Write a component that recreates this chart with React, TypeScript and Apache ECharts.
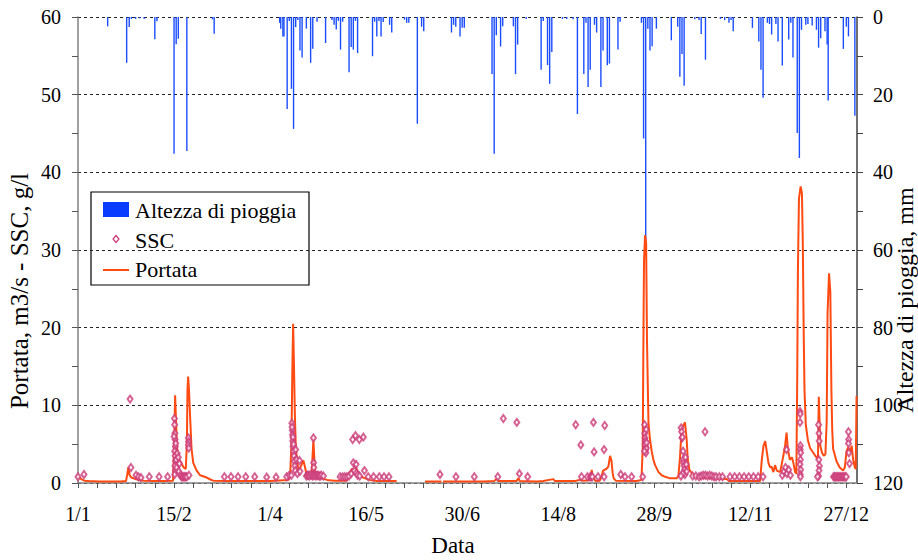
import React, { useEffect, useRef } from "react";
import * as echarts from "echarts";

// x: day of year (0 = 1 Jan)
const xTickLabels = ["1/1", "15/2", "1/4", "16/5", "30/6", "14/8", "28/9", "12/11", "27/12"];

// Altezza di pioggia (mm) [day, mm]
const rain: number[][] = [
  [13.9, 2.4], [22.8, 11.8], [24, 2.6], [25, 0.5], [27, 0.5], [29, 0.3], [31, 0.5], [36, 5.7], [37, 1.1],
  [45, 35.2], [46, 7], [47, 5.6], [51, 34.5], [63, 0.6], [63.8, 4.3],
  [94.5, 1.5], [95, 3], [96, 5], [96.5, 5], [98, 23.7], [99, 1], [100, 18.5], [101, 28.8], [102, 2.6], [103, 0.8],
  [104, 8.6], [105, 10.4], [107, 3], [109, 11.8], [110, 8.2], [112, 1.2], [116, 6.7], [119, 0.8], [120, 2],
  [121, 3.2], [122, 1], [123, 8.4], [124, 1.2], [127, 14.2], [128, 7.7], [129, 8.4], [130, 1], [131, 9.3],
  [138, 10.1], [139, 1.2], [140, 5], [141, 1], [142, 5], [143, 1.3], [146, 2], [147, 4], [153, 0.7], [154, 1.5],
  [155, 1.5], [159, 27.5], [161, 2.5], [162, 3.7], [175, 4], [176, 2], [177, 2.5], [179, 5], [180, 2.8], [181, 2.8],
  [194, 14.7], [195, 35.2], [196, 4.7], [198, 7.6], [199, 2.4], [204, 2.4], [205, 14.7], [206, 7.1], [210, 0.5],
  [217, 13.6], [218, 1], [220, 12.4], [221, 17.2], [222, 9], [227, 0.5], [229, 0.5], [232, 0.6], [234, 25],
  [237, 14.7], [238, 1.5], [239, 18], [240, 13.6], [242, 2], [243, 4], [245, 18], [246, 8.6], [248, 12.4], [249, 12],
  [253, 8.4], [254, 1.2], [264, 1.5], [265, 31.3], [266, 60], [267, 3], [268, 8.6], [269, 7.5], [271, 3], [278, 6],
  [281, 2.5], [282, 15.4], [283, 9.5], [284, 17.7], [289, 0.6], [291, 0.8], [292, 4.4], [294, 11], [301, 0.5],
  [303, 0.8], [305, 1.5], [306, 0.8], [307, 3.7], [316, 2.8], [319, 6.3], [320, 13.6], [321, 20.8], [323, 1.5],
  [324, 1.8], [325, 4.5], [327, 1.8], [328, 6.3], [330, 12.5], [333, 5.8], [334, 1.5], [335, 10.4], [337, 29.9],
  [338, 36.3], [339, 3.3], [341, 2], [342, 1.8], [344, 2.2], [346, 3.3], [347, 7.9], [348, 5.5], [350, 3.7],
  [351, 7.1], [351.5, 21.5], [358.6, 8.2], [360, 2.5], [361, 5], [364, 25.4],
];

// SSC (g/l) [day, value]
const ssc: number[][] = [
  [0, 0.8], [2.8, 1.1], [24.4, 10.8], [24.8, 2.0], [27.2, 1.0], [28.3, 0.8], [29.5, 0.7], [33.4, 0.8], [38, 0.8], [42, 0.8],
  [45.2, 8.3], [45.3, 7.5], [45.4, 6.4], [45.5, 5.6], [45.6, 4.7], [45.3, 4.1], [45.5, 3.5], [45.7, 2.8], [45.4, 2.2],
  [45.6, 1.6], [45.3, 1.1], [45, 6.0], [45.8, 5.1], [46, 3.0], [46.2, 2.0], [46.5, 3.8], [47, 3.3], [47.2, 1.5],
  [47.5, 2.5], [48, 1.0], [48.5, 0.8], [49, 0.8], [49.5, 0.8], [50, 0.8], [50.5, 0.8], [51, 0.8], [51.7, 5.8],
  [51.8, 5.3], [51.7, 4.9], [51.9, 4.5], [52, 1.0], [68.6, 0.8], [71.7, 0.8], [75, 0.8], [78.6, 0.8], [82.8, 0.8],
  [88.4, 0.75], [92.8, 0.75], [97.8, 0.8], [99, 1.0], [100, 1.0],
  [100.2, 7.7], [100.4, 6.8], [100.5, 6.2], [100.6, 5.4], [100.8, 4.7], [101, 4.1], [101.2, 3.5], [101.4, 2.8],
  [101.6, 2.2], [101.8, 1.6], [100.3, 7.2], [100.7, 5.9], [101, 5.0], [102, 4.3], [102.4, 3.0], [102.8, 1.2],
  [103.8, 2.9], [104, 1.5],
  [107, 0.9], [107.5, 1.0], [108, 1.0], [108.5, 0.9], [109, 1.1], [109.5, 1.0], [110, 0.9], [110.5, 1.0], [111, 1.0],
  [111.5, 0.9], [112, 1.0], [112.5, 1.0], [113, 0.9], [113.5, 0.9], [114, 1.0], [115, 0.9],
  [110.3, 5.8], [110.4, 2.6], [110.5, 2.0],
  [122.8, 0.8], [124, 0.8], [125, 0.8], [126, 0.8], [127, 0.9], [128, 1.2], [128.7, 5.6], [130, 6.1], [131.8, 5.6],
  [133.7, 5.9], [129, 2.6], [130.3, 2.4], [129.5, 1.6], [130.5, 1.3], [131, 1.0], [132, 0.9], [134.2, 1.6], [136, 0.8],
  [138.5, 0.8], [141.2, 0.8], [143.4, 0.8], [145.7, 0.8],
  [169.6, 1.1], [177.1, 0.8], [185.7, 0.8], [196.7, 0.8], [199.3, 8.3], [205.6, 7.8], [206.8, 1.2], [210.7, 0.8],
  [233.2, 7.5], [235.6, 4.9], [235.9, 0.8], [238.7, 0.8], [240, 0.8], [240.5, 0.8], [241, 0.8], [241.5, 7.8],
  [241.8, 4.0], [243.7, 0.8], [246.5, 4.3], [246.8, 7.4], [246.5, 0.8], [254.3, 1.1], [256.3, 0.8], [259.4, 0.8],
  [264.6, 0.8],
  [265.5, 7.5], [265.6, 6.4], [265.7, 5.8], [265.8, 5.4], [265.9, 4.7], [266, 4.3], [266.1, 3.9], [265.7, 5.0],
  [266.2, 6.9], [266.3, 4.5], [265.4, 4.1], [266.4, 5.2],
  [282.6, 7.1], [282.8, 6.6], [283, 5.8], [283.2, 5.9], [283.5, 4.1], [283.6, 3.0], [283.8, 2.6], [284, 2.2],
  [284.2, 1.7], [284.4, 1.1], [284.6, 3.3], [285, 2.4], [285.2, 1.5], [283.3, 1.2], [282.5, 0.9],
  [293.8, 6.6],
  [288, 0.9], [289.5, 0.9], [291, 0.8], [292, 0.9], [293, 1.0], [294, 1.0], [295, 0.9], [296, 1.0], [297, 0.9],
  [298, 0.8], [299, 0.8], [300.5, 0.8], [302, 0.8],
  [305.5, 0.8], [307.7, 0.8], [309.9, 0.8], [312.1, 0.8], [314.3, 0.8], [316.5, 0.8], [318.7, 0.8], [321, 0.8],
  [332, 4.3], [330, 1.0], [330.8, 1.5], [331.5, 2.0], [332.2, 1.2], [333, 1.7], [333.8, 1.0],
  [338.3, 9.2], [338.4, 8.9], [338.3, 7.8], [338.5, 4.8], [338.4, 4.3], [338.6, 3.9], [338.5, 3.0], [338.3, 2.4],
  [338.6, 1.7], [338.4, 1.1], [338.5, 0.8],
  [347, 7.5], [347.2, 6.4], [347.3, 5.4], [347.1, 3.0], [347.4, 2.2], [347.2, 1.6], [347, 0.9], [346.5, 0.8],
  [354, 0.8], [354.5, 0.8], [355, 0.8], [355.5, 0.8], [356, 0.8], [356.5, 0.8], [357, 0.8], [357.5, 0.8], [358, 0.8],
  [358.5, 0.8], [359, 0.8], [359.5, 0.8], [360, 0.8],
  [361, 6.6], [361.1, 5.6], [361, 5.1], [361.2, 3.9], [361.5, 2.5],
];

// Portata (m3/s) [day, value]; null = no data
const portata: (number | null)[][] = [
  [0, 0.9], [1, 0.6], [2, 0.45], [3, 0.3], [5, 0.25], [10, 0.2], [15, 0.2], [20, 0.2], [22.5, 0.25], [23, 1.0],
  [23.6, 2.0], [24.2, 1.0], [25, 0.7], [27, 0.5], [29, 0.35], [31, 0.3], [36, 0.25], [40, 0.25], [44.5, 0.3],
  [44.8, 2.7], [45.2, 7], [45.5, 11.3], [45.9, 8.3], [46.3, 4.9], [46.8, 3.7], [47.5, 3.0], [48.5, 2.5], [49.5, 2.0],
  [50.5, 1.8], [51, 5], [51.3, 12], [51.6, 13.7], [52, 12], [52.5, 8.7], [53.2, 4.4], [54, 2.6], [55.6, 1.6],
  [57.2, 1.0], [60.3, 0.7], [62, 0.45], [63.4, 0.3], [70, 0.25], [80, 0.25], [90, 0.25], [98.6, 0.4], [99.5, 1.5],
  [100, 5], [100.4, 14], [100.8, 20.5], [101.2, 15], [101.6, 9], [102, 5], [102.5, 3.2], [103.3, 1.6], [104.2, 2.0],
  [104.8, 2.4], [105.6, 2.9], [106.4, 2.0], [107.2, 0.9], [108.8, 0.7], [109.5, 1.2], [110.3, 5.6], [111, 1.6],
  [111.8, 0.8], [114.4, 0.6], [116.7, 0.4], [120, 0.3], [125.9, 0.3], [126.7, 1.0], [128.3, 1.8], [129.8, 1.8],
  [130.3, 2.0], [131.3, 1.3], [132.9, 0.8], [134.5, 0.6], [136.8, 0.4], [140, 0.25], [149.3, 0.25], [149.4, null],
  [162.6, 0.2], [170.3, 0.2], [170.5, null], [171, 0.2], [180, 0.2], [190, 0.2], [195, 0.25], [196, 0.5], [197, 0.25],
  [205.5, 0.25], [206.3, 0.6], [207, 0.25], [215, 0.2], [218, 0.25], [222.7, 0.5], [223.5, 0.25], [233, 0.25],
  [235, 0.4], [237, 0.3], [240.2, 0.4], [240.7, 1.7], [241.2, 0.8], [242.5, 0.25], [244.5, 0.3], [245.3, 0.8],
  [246, 1.6], [247.5, 1.8], [248.5, 2.1], [249.3, 3.5], [250, 2.8], [250.5, 1.3], [251, 0.6], [252, 0.3],
  [261.8, 0.25], [264, 0.4], [264.6, 4.5], [264.9, 17.4], [265.2, 28.6], [265.7, 31.9], [266.2, 30.9], [266.6, 18.4],
  [267.3, 7.7], [268, 5.6], [268.8, 4.1], [269.6, 3.0], [270.4, 2.3], [272, 1.4], [273.5, 1.0], [275.1, 0.8],
  [277.4, 0.6], [280.5, 0.6], [281.3, 0.9], [282, 3.0], [282.8, 6.9], [283.6, 7.4], [284.4, 7.8], [285.2, 5.6],
  [285.7, 3.0], [286.5, 1.7], [288, 1.1], [290.4, 0.7], [297, 0.6], [304, 0.5], [305, 0.25], [319.6, 0.25],
  [320.4, 3.0], [321.2, 4.8], [322, 5.4], [322.7, 4.1], [323.5, 2.6], [324.3, 2.0], [325, 2.1], [325.8, 1.4],
  [326.6, 2.3], [327.4, 1.6], [329, 1.4], [329.7, 2.4], [330.5, 3.5], [331.3, 4.8], [332, 6.5], [332.6, 4.4],
  [333.5, 3.0], [334.5, 3.3], [335.2, 2.6], [336, 1.4], [336.6, 1.2], [337, 13.7], [337.3, 27], [337.8, 36.6],
  [338.6, 38.2], [339.2, 37.3], [339.6, 31], [340, 20], [340.4, 12], [341, 7.5], [342, 5.5], [343, 4.5],
  [344.5, 3.9], [346, 3.3], [346.7, 3.0], [347.1, 11.1], [347.5, 7.7], [347.8, 4.8], [348.6, 3.9], [349.4, 3.5],
  [350.2, 3.7], [350.8, 8], [351.2, 21.8], [351.9, 27.0], [352.5, 24.6], [353, 12], [353.4, 6.8], [353.8, 4.4],
  [355.4, 2.8], [356.9, 2.0], [358.5, 1.6], [359.3, 2.0], [360.1, 4.1], [360.9, 4.6], [361.7, 3.9], [362.5, 4.8],
  [363.2, 3.0], [364, 2.0], [364.4, 1.8], [364.8, 11.2],
];

const FONT = '"Liberation Serif", "Times New Roman", serif';
const RAIN_COLOR = "#1a4dff";
const SSC_COLOR = "#cc3a78";
const Q_COLOR = "#ff4a12";

export default function App() {
  const ref = useRef<HTMLDivElement>(null);
  useEffect(() => {
    if (!ref.current) return;
    const chart = echarts.init(ref.current, null, { renderer: "svg" });
    const txt = { fontFamily: FONT, fontSize: 20, color: "#000" };
    chart.setOption({
      animation: false,
      backgroundColor: "#fff",
      grid: { left: 78, right: 61, top: 17, bottom: 77 },
      xAxis: {
        type: "value",
        min: 0,
        max: 365,
        interval: 9,
        axisLine: { onZero: false, lineStyle: { color: "#808080", width: 1.5 } },
        axisTick: { length: 5, lineStyle: { color: "#555" } },
        splitLine: { show: false },
        axisLabel: {
          ...txt,
          margin: 21,
          showMaxLabel: false,
          formatter: (v: number) => (v % 45 === 0 ? xTickLabels[v / 45] ?? "" : ""),
        },
      },
      yAxis: [
        {
          type: "value",
          min: 0,
          max: 60,
          interval: 10,
          position: "left",
          axisLine: { show: true, onZero: false, lineStyle: { color: "#808080", width: 1.5 } },
          axisTick: { show: true, length: 6, lineStyle: { color: "#555" } },
          minorTick: { show: true, splitNumber: 2, length: 6, lineStyle: { color: "#555" } },
          splitLine: { show: true, lineStyle: { type: [3, 3], color: "#222", width: 1 } },
          axisLabel: { ...txt, margin: 17 },
        },
        {
          type: "value",
          min: 0,
          max: 120,
          interval: 20,
          inverse: true,
          position: "right",
          axisLine: { show: true, onZero: false, lineStyle: { color: "#404040", width: 1.5 } },
          axisTick: { show: true, length: 6, lineStyle: { color: "#404040" } },
          minorTick: { show: true, splitNumber: 2, length: 6, lineStyle: { color: "#404040" } },
          splitLine: { show: false },
          axisLabel: { ...txt, margin: 16 },
        },
      ],
      series: [
        {
          name: "Altezza di pioggia",
          type: "bar",
          yAxisIndex: 1,
          barWidth: 1.4,
          itemStyle: { color: RAIN_COLOR },
          data: rain,
          z: 1,
        },
        {
          name: "Portata",
          type: "line",
          yAxisIndex: 0,
          showSymbol: false,
          symbol: "none",
          connectNulls: false,
          lineStyle: { color: Q_COLOR, width: 2 },
          itemStyle: { color: Q_COLOR },
          data: portata,
          z: 2,
        },
        {
          name: "SSC",
          type: "scatter",
          yAxisIndex: 0,
          symbol: "emptyDiamond",
          symbolSize: [5, 7],
          itemStyle: { color: SSC_COLOR, borderColor: SSC_COLOR, borderWidth: 1 },
          data: ssc,
          z: 3,
        },
      ],
      graphic: [
        {
          type: "group",
          z: 100,
          children: [
            { type: "rect", shape: { x: 91, y: 192, width: 218, height: 93 }, style: { fill: "#fff", stroke: "#000", lineWidth: 1.2 } },
            { type: "rect", shape: { x: 103, y: 202, width: 26, height: 15 }, style: { fill: "#0a3cff" } },
            { type: "text", x: 135, y: 210, style: { text: "Altezza di pioggia", font: `22px ${FONT}`, fill: "#000", verticalAlign: "middle" } },
            { type: "polygon", shape: { points: [[116, 235.5], [119, 239], [116, 242.5], [113, 239]] }, style: { fill: "#fff", stroke: SSC_COLOR, lineWidth: 1.2 } },
            { type: "text", x: 135, y: 240, style: { text: "SSC", font: `22px ${FONT}`, fill: "#000", verticalAlign: "middle" } },
            { type: "line", shape: { x1: 103, y1: 270, x2: 129, y2: 270 }, style: { stroke: Q_COLOR, lineWidth: 2 } },
            { type: "text", x: 135, y: 269, style: { text: "Portata", font: `22px ${FONT}`, fill: "#000", verticalAlign: "middle" } },
          ],
        },
        { type: "text", x: 19, y: 291, rotation: Math.PI / 2, style: { text: "Portata, m3/s - SSC, g/l", font: `25px ${FONT}`, fill: "#000", align: "center", verticalAlign: "middle" } },
        { type: "text", x: 905, y: 300, rotation: Math.PI / 2, style: { text: "Altezza di pioggia, mm", font: `24px ${FONT}`, fill: "#000", align: "center", verticalAlign: "middle" } },
        { type: "text", x: 453, y: 545, style: { text: "Data", font: `23px ${FONT}`, fill: "#000", align: "center", verticalAlign: "middle" } },
      ],
    });
    return () => chart.dispose();
  }, []);
  return <div ref={ref} style={{ position: "fixed", left: 0, top: 0, width: 918, height: 560 }} />;
}
